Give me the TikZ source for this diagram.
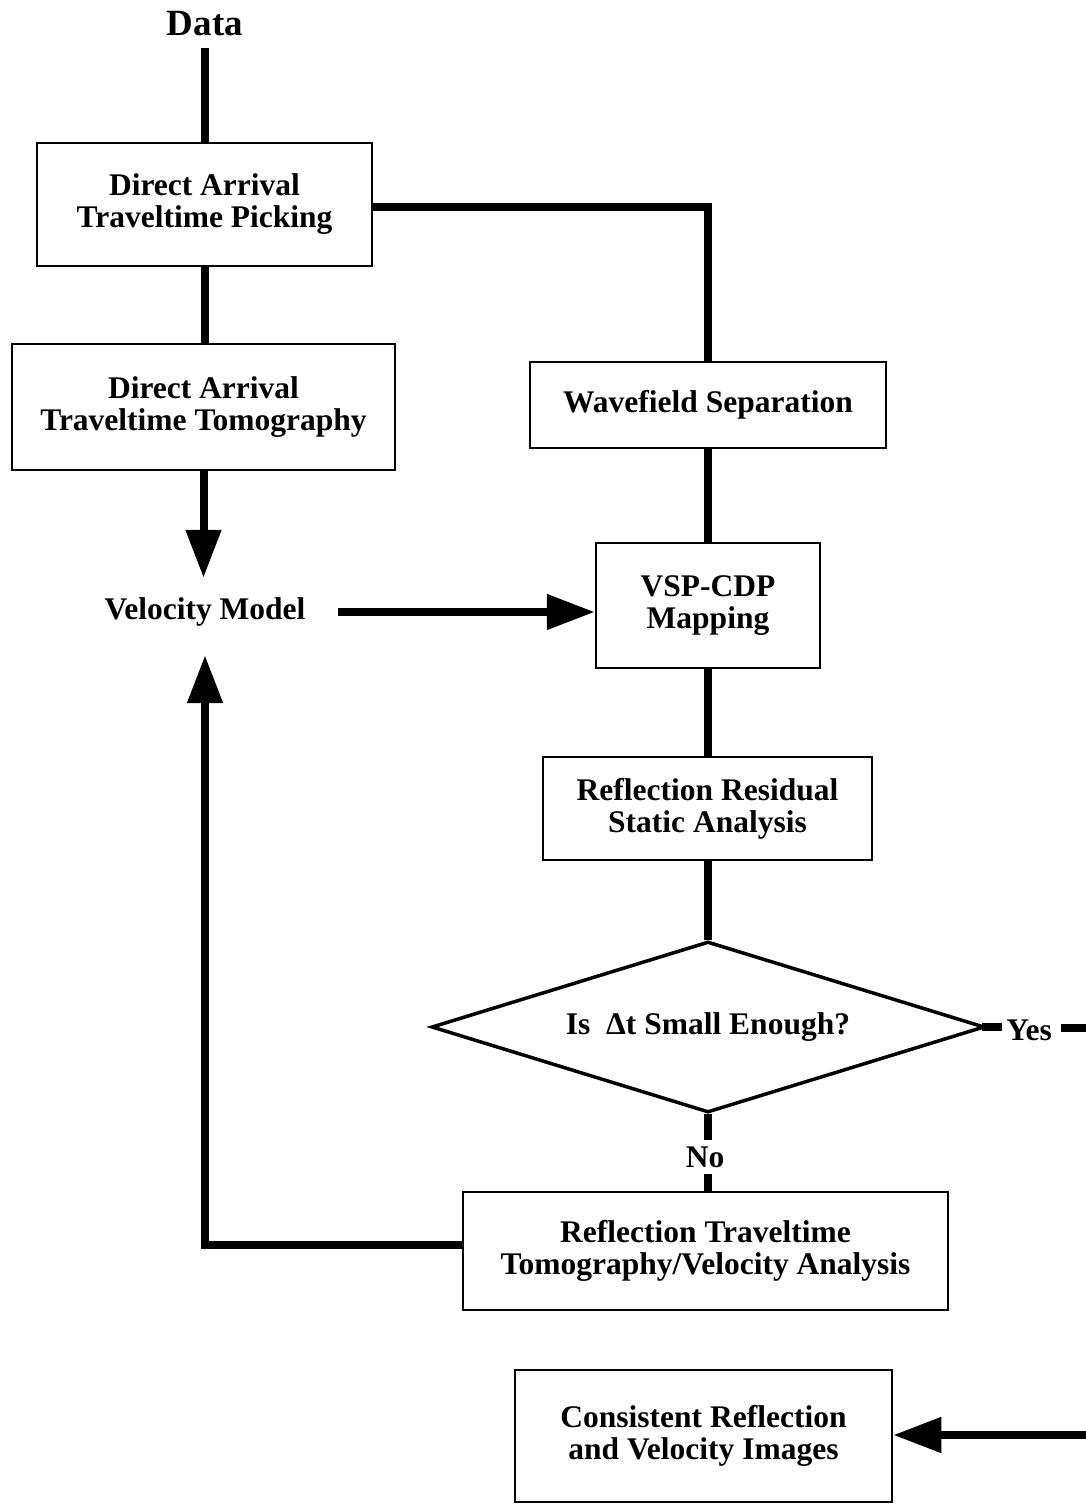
\documentclass[tikz,border=0pt]{standalone}
\usepackage{fontspec}
\setmainfont{Liberation Serif}
\usetikzlibrary{arrows.meta,shapes.geometric,calc}
\begin{document}
\begin{tikzpicture}[x=1pt,y=-1pt,
  txt/.style={font=\bfseries\fontsize{31.5}{32}\selectfont},
  box/.style={txt,draw,line width=2.5pt,align=center,inner sep=0pt},
  lbl/.style={txt,align=center,inner sep=0pt},
  conn/.style={line width=8pt},
  arr/.style={line width=8pt,-{Triangle[width=34pt,length=48pt]}},
]
\clip (0,0) rectangle (1086,1504);

\node[lbl,font=\bfseries\fontsize{37}{40}\selectfont,inner ysep=12pt] (data) at (205,24) {Data};
\node[box,minimum width=335pt,minimum height=123pt] (b1) at (204.5,204.5) {Direct Arrival\\Traveltime Picking};
\node[box,minimum width=383pt,minimum height=126pt] (b2) at (203.5,407) {Direct Arrival\\Traveltime Tomography};
\node[lbl,inner xsep=32pt,minimum height=68pt] (vm) at (205,612) {Velocity Model};
\node[box,minimum width=356pt,minimum height=86pt] (ws) at (708,405) {Wavefield Separation};
\node[box,minimum width=224pt,minimum height=125pt] (vsp) at (708,605.5) {VSP-CDP\\Mapping};
\node[box,minimum width=329pt,minimum height=103pt] (rrs) at (707.5,808.5) {Reflection Residual\\Static Analysis};
\node[txt,draw,diamond,line width=3.5pt,inner sep=0pt,aspect=3.2,
      minimum width=553pt,minimum height=171pt] (dia) at (708,1027) {Is\ \ Δt Small Enough?};
\node[lbl,inner xsep=4pt] (yes) at (1029,1030) {Yes};
\node[lbl,inner ysep=6pt] (no) at (705,1157) {No};
\node[box,minimum width=485pt,minimum height=118pt] (rtt) at (705.5,1251) {Reflection Traveltime\\Tomography/Velocity Analysis};
\node[box,minimum width=377pt,minimum height=132pt] (crvi) at (703.5,1436) {Consistent Reflection\\and Velocity Images};
\coordinate (c1) at (1100,1028);
\coordinate (c2) at (1100,1435);

\draw[conn] (data.south) -- (data.south |- b1.north);
\draw[conn] (b1.south) -- (b1.south |- b2.north);
\draw[conn] ([yshift=-2.5pt]b1.east) -| (ws.north);
\draw[arr] (b2.south) -- (b2.south |- vm.north);
\draw[arr] (vm.east) -- (vm.east -| vsp.west);
\draw[conn] (ws.south) -- (ws.south |- vsp.north);
\draw[conn] (vsp.south) -- (vsp.south |- rrs.north);
\draw[conn] (rrs.south -| dia.north) -- (dia.north);
\draw[conn] ([xshift=-4pt]dia.east) -- (dia.east -| yes.west);
\draw[conn] (dia.south) -- (dia.south |- no.north);
\draw[conn] (dia.south |- no.south) -- (dia.south |- rtt.north);
\draw[arr,shorten >=9pt] ([yshift=6pt]rtt.west) -| (vm.south);
\draw[arr,shorten <=5pt] (yes.east |- c1) -- (c1) -- (c2) -- (crvi.east |- c2);
\end{tikzpicture}
\end{document}
